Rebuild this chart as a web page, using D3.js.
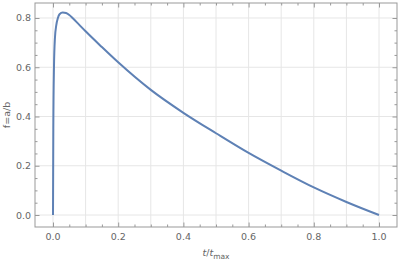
<!DOCTYPE html>
<html lang="en">
	<head>
		<meta charset="utf-8">
		<title>f = a/b</title>
		<script type="text/javascript" src="https://cdn.jsdelivr.net/npm/d3@7"></script>
		<style type="text/css">
			body { margin: 0; background: #fff; }
			text { font-family: "DejaVu Sans", sans-serif; fill: #666; }
		</style>
	</head>
	<body>
		<script type="text/javascript">

			//Curve samples
			var tValues = [0, 0.001, 0.003, 0.006, 0.01, 0.015, 0.02, 0.03, 0.04, 0.05, 0.06, 0.08, 0.1, 0.15, 0.2, 0.3, 0.4, 0.5, 0.6, 0.7, 0.8, 0.9, 1.0];
			var fValues = [0, 0.35, 0.6, 0.72, 0.77, 0.80, 0.815, 0.822, 0.82, 0.812, 0.80, 0.773, 0.746, 0.682, 0.62, 0.508, 0.415, 0.332, 0.252, 0.18, 0.112, 0.053, 0];

			//Tick values
			var xTicks = [0, 0.2, 0.4, 0.6, 0.8, 1.0];
			var xGrid = [0, 0.1, 0.2, 0.3, 0.4, 0.5, 0.6, 0.7, 0.8, 0.9, 1.0];
			var xMinor = [0.05, 0.1, 0.15, 0.25, 0.3, 0.35, 0.45, 0.5, 0.55, 0.65, 0.7, 0.75, 0.85, 0.9, 0.95];
			var yTicks = [0, 0.2, 0.4, 0.6, 0.8];
			var yMinor = [0.05, 0.1, 0.15, 0.25, 0.3, 0.35, 0.45, 0.5, 0.55, 0.65, 0.7, 0.75];

			var w = 399;
			var h = 264;
			var pLeft = 35, pRight = 397, pTop = 3, pBottom = 227;

			var dataset = tValues.map(function(t, i) { return { t: t, f: fValues[i] }; });

			var xScale = d3.scaleLinear()
						   .domain([-0.0552, 1.0552])
						   .range([pLeft, pRight]);

			var yScale = d3.scaleLinear()
						   .domain([-0.0487, 0.8609])
						   .range([pBottom, pTop]);

			var svg = d3.select("body")
						.append("svg")
						.attr("width", w)
						.attr("height", h);

			//Grid lines
			svg.append("g")
			   .selectAll("line")
			   .data(xGrid)
			   .enter()
			   .append("line")
			   .attr("x1", function(d) { return xScale(d); })
			   .attr("x2", function(d) { return xScale(d); })
			   .attr("y1", pTop)
			   .attr("y2", pBottom)
			   .attr("stroke", "#e6e6e6")
			   .attr("stroke-width", 1);

			svg.append("g")
			   .selectAll("line")
			   .data(yTicks)
			   .enter()
			   .append("line")
			   .attr("x1", pLeft)
			   .attr("x2", pRight)
			   .attr("y1", function(d) { return yScale(d); })
			   .attr("y2", function(d) { return yScale(d); })
			   .attr("stroke", "#e6e6e6")
			   .attr("stroke-width", 1);

			//Frame axes, ticks pointing inward
			function frameAxis(axis, pos, ticks, size) {
				svg.append("g")
				   .attr("transform", pos)
				   .call(axis.tickValues(ticks).tickSize(size).tickFormat(""))
				   .call(function(g) {
						g.select(".domain").remove();
						g.selectAll("line").attr("stroke", "#999");
				   });
			}

			frameAxis(d3.axisTop(xScale), "translate(0," + pBottom + ")", xTicks, 4.5);
			frameAxis(d3.axisTop(xScale), "translate(0," + pBottom + ")", xMinor, 2.5);
			frameAxis(d3.axisBottom(xScale), "translate(0," + pTop + ")", xTicks, 4.5);
			frameAxis(d3.axisBottom(xScale), "translate(0," + pTop + ")", xMinor, 2.5);
			frameAxis(d3.axisRight(yScale), "translate(" + pLeft + ",0)", yTicks, 4.5);
			frameAxis(d3.axisRight(yScale), "translate(" + pLeft + ",0)", yMinor, 2.5);
			frameAxis(d3.axisLeft(yScale), "translate(" + pRight + ",0)", yTicks, 4.5);
			frameAxis(d3.axisLeft(yScale), "translate(" + pRight + ",0)", yMinor, 2.5);

			//Frame
			svg.append("rect")
			   .attr("x", pLeft)
			   .attr("y", pTop)
			   .attr("width", pRight - pLeft)
			   .attr("height", pBottom - pTop)
			   .attr("fill", "none")
			   .attr("stroke", "#999")
			   .attr("stroke-width", 1);

			//Tick labels
			svg.append("g")
			   .selectAll("text")
			   .data(xTicks)
			   .enter()
			   .append("text")
			   .attr("x", function(d) { return xScale(d); })
			   .attr("y", pBottom + 13)
			   .attr("text-anchor", "middle")
			   .attr("font-size", "9.5px")
			   .text(function(d) { return d.toFixed(1); });

			svg.append("g")
			   .selectAll("text")
			   .data(yTicks)
			   .enter()
			   .append("text")
			   .attr("x", pLeft - 4)
			   .attr("y", function(d) { return yScale(d) + 3.5; })
			   .attr("text-anchor", "end")
			   .attr("font-size", "9.5px")
			   .text(function(d) { return d.toFixed(1); });

			//Curve
			var line = d3.line()
						 .x(function(d) { return xScale(d.t); })
						 .y(function(d) { return yScale(d.f); })
						 .curve(d3.curveMonotoneX);

			svg.append("path")
			   .datum(dataset)
			   .attr("d", line)
			   .attr("fill", "none")
			   .attr("stroke", "#5e81b5")
			   .attr("stroke-width", 2);

			//Axis labels
			var xLabel = svg.append("text")
							.attr("x", (pLeft + pRight) / 2)
							.attr("y", 256)
							.attr("text-anchor", "middle")
							.attr("font-size", "9.5px");
			xLabel.append("tspan").attr("font-style", "italic").text("t");
			xLabel.append("tspan").text("/");
			xLabel.append("tspan").attr("font-style", "italic").text("t");
			xLabel.append("tspan").attr("font-size", "7.5px").attr("dy", 3).text("max");

			svg.append("text")
			   .attr("transform", "translate(10," + ((pTop + pBottom) / 2) + ") rotate(-90)")
			   .attr("text-anchor", "middle")
			   .attr("font-size", "9.5px")
			   .text("f=a/b");

		</script>
	</body>
</html>
